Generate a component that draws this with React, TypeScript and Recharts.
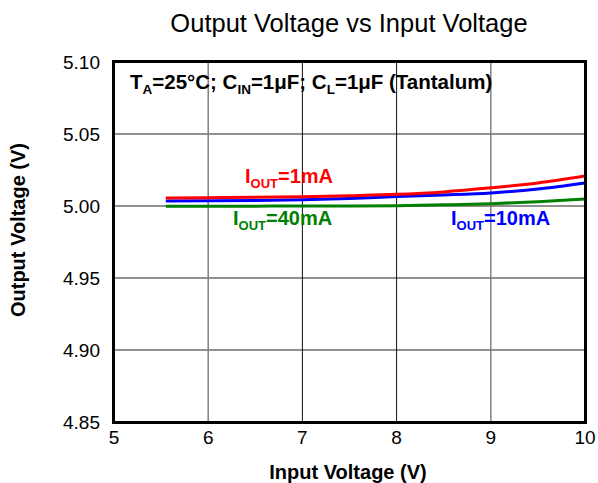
import React from "react";
import { LineChart, Line, XAxis, YAxis, ReferenceLine } from "recharts";

const inputVoltage = [5.55, 6, 6.5, 7, 7.5, 8, 8.5, 9, 9.5, 10];
const iout1mA = [5.0056, 5.0058, 5.006, 5.0065, 5.0072, 5.0081, 5.0098, 5.0126, 5.016, 5.0208];
const iout10mA = [5.0034, 5.0036, 5.0039, 5.0044, 5.0052, 5.0066, 5.0077, 5.0091, 5.0118, 5.016];
const iout40mA = [4.9998, 4.9998, 4.9999, 5.0, 5.0, 5.0002, 5.0008, 5.0016, 5.003, 5.0049];

const xTicks = [5, 6, 7, 8, 9, 10];
const yTicks = [4.85, 4.9, 4.95, 5.0, 5.05, 5.1];
const darkVLines = [7, 8];
const greyVLines = [6, 9];
const hLines = [4.9, 4.95, 5.0, 5.05];

const data = inputVoltage.map((v, i) => ({
  vin: v,
  i1: iout1mA[i],
  i10: iout10mA[i],
  i40: iout40mA[i],
}));

const FONT = '"Liberation Sans", Arial, sans-serif';

const Sub = ({ children, size = 13 }: { children: React.ReactNode; size?: number }) => (
  <span style={{ fontSize: size, position: "relative", top: 5 }}>{children}</span>
);

const abs = (style: React.CSSProperties): React.CSSProperties => ({
  position: "absolute",
  whiteSpace: "nowrap",
  lineHeight: 1,
  fontFamily: FONT,
  pointerEvents: "none",
  ...style,
});

export default function App() {
  return (
    <div style={{ position: "absolute", left: 0, top: 0, width: 598, height: 483, background: "#fff", fontFamily: FONT }}>
      <LineChart width={598} height={483} data={data} margin={{ top: 62, right: 13, left: 0, bottom: 0 }}>
        {hLines.map((y) => (
          <ReferenceLine key={"h" + y} y={y} stroke="#222" strokeWidth={1} />
        ))}
        {greyVLines.map((x) => (
          <ReferenceLine key={"g" + x} x={x} stroke="#808080" strokeWidth={1.5} />
        ))}
        {darkVLines.map((x) => (
          <ReferenceLine key={"d" + x} x={x} stroke="#111" strokeWidth={1} />
        ))}
        <XAxis
          dataKey="vin"
          type="number"
          domain={[5, 10]}
          ticks={xTicks}
          height={61}
          axisLine={false}
          tickLine={false}
          tickSize={0}
          tickMargin={9}
          tick={{ fill: "#000", fontSize: 19, fontFamily: FONT }}
          allowDataOverflow
        />
        <YAxis
          type="number"
          domain={[4.85, 5.1]}
          ticks={yTicks}
          width={114}
          axisLine={false}
          tickLine={false}
          tickSize={0}
          tickMargin={14}
          tickFormatter={(v: number) => v.toFixed(2)}
          tick={{ fill: "#000", fontSize: 19, fontFamily: FONT }}
          allowDataOverflow
        />
        <Line type="monotone" dataKey="i40" stroke="#008000" strokeWidth={3} dot={false} isAnimationActive={false} />
        <Line type="monotone" dataKey="i10" stroke="#0000ff" strokeWidth={3} dot={false} isAnimationActive={false} />
        <Line type="monotone" dataKey="i1" stroke="#ff0000" strokeWidth={3} dot={false} isAnimationActive={false} />
      </LineChart>

      {/* plot frame */}
      <div
        style={{
          position: "absolute",
          left: 112,
          top: 60,
          width: 475,
          height: 364,
          border: "3px solid #000",
          boxSizing: "border-box",
          pointerEvents: "none",
        }}
      />

      <div style={abs({ left: 349, top: 11, transform: "translateX(-50%)", fontSize: 25.5, color: "#000" })}>
        Output Voltage vs Input Voltage
      </div>

      <div style={abs({ left: 348, top: 462, transform: "translateX(-50%)", fontSize: 20, fontWeight: "bold" })}>
        Input Voltage (V)
      </div>

      <div
        style={abs({
          left: 18,
          top: 230,
          transform: "translate(-50%, -50%) rotate(-90deg)",
          fontSize: 20,
          fontWeight: "bold",
        })}
      >
        Output Voltage (V)
      </div>

      <div style={abs({ left: 130, top: 72, fontSize: 20.5, fontWeight: "bold" })}>
        T<Sub size={13.5}>A</Sub>=25°C; C<Sub size={13.5}>IN</Sub>=1μF; C<Sub size={13.5}>L</Sub>=1μF (Tantalum)
      </div>

      <div style={abs({ left: 245, top: 166, fontSize: 20, fontWeight: "bold", color: "#ff0000" })}>
        I<Sub>OUT</Sub>=1mA
      </div>
      <div style={abs({ left: 233, top: 208, fontSize: 20, fontWeight: "bold", color: "#008000" })}>
        I<Sub>OUT</Sub>=40mA
      </div>
      <div style={abs({ left: 451, top: 208, fontSize: 20, fontWeight: "bold", color: "#0000ff" })}>
        I<Sub>OUT</Sub>=10mA
      </div>
    </div>
  );
}
